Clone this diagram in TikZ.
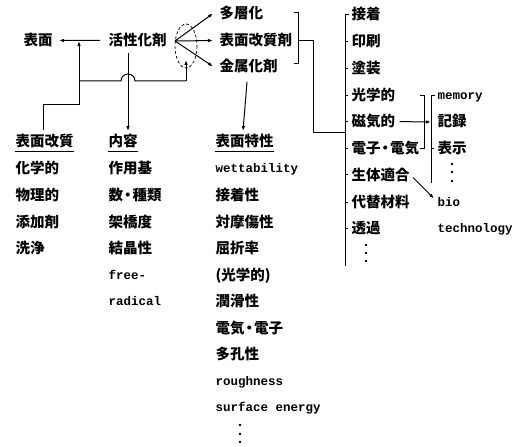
\documentclass[tikz,border=0pt]{standalone}
\usepackage{fontspec}
\newfontfamily\jpf{Noto Sans CJK JP}
\newfontfamily\monof{Liberation Mono}
\usetikzlibrary{arrows.meta,calc}
\newcommand\nakaguro{\kern-2.5pt・\kern-2.5pt}
\begin{document}
\begin{tikzpicture}[x=1pt,y=-1pt,line width=1pt,
  jp/.style={font=\jpf\bfseries\fontsize{14.5}{14}\selectfont,inner sep=0pt,anchor=base west},
  lt/.style={font=\monof\bfseries\fontsize{12.5}{12}\selectfont,inner sep=0pt,anchor=base west},
  arr/.style={-{Latex[length=5pt,width=3.5pt]}},
  ul/.style={line width=0.6pt},
  dotn/.style={circle,fill,inner sep=0pt,minimum size=2.6pt}]
\useasboundingbox[fill=white] (0,0) rectangle (518,446);
% top row
\node[jp] (hm) at (23,46) {表面};
\node[jp] (kz) at (108,46) {活性化剤};
\node[jp] (tso) at (219,19) {多層化};
\node[jp] (kkz) at (219,46) {表面改質剤};
\node[jp] (kzk) at (219,72) {金属化剤};
% column 1
\node[jp] (c1h) at (15,147) {表面改質};
\node[jp] (c1a) at (15,174) {化学的};
\node[jp] (c1b) at (15,200) {物理的};
\node[jp] (c1c) at (15,227) {添加剤};
\node[jp] (c1d) at (15,253) {洗浄};
% column 2
\node[jp] (c2h) at (108,147) {内容};
\node[jp] (c2a) at (108,174) {作用基};
\node[jp] (c2b) at (108,200) {数\nakaguro 種類};
\node[jp] (c2c) at (108,227) {架橋度};
\node[jp] (c2d) at (108,253) {結晶性};
\node[lt] (c2e) at (108,279) {free-};
\node[lt] (c2f) at (108,305) {radical};
% column 3
\node[jp] (c3h) at (215,147) {表面特性};
\node[lt] (c3a) at (215,173) {wettability};
\node[jp] (c3b) at (215,200) {接着性};
\node[jp] (c3c) at (215,227) {対摩傷性};
\node[jp] (c3d) at (215,253) {屈折率};
\node[jp] (c3e) at (215,280) {(光学的)};
\node[jp] (c3f) at (215,306) {潤滑性};
\node[jp] (c3g) at (215,333) {電気\nakaguro 電子};
\node[jp] (c3i) at (215,359) {多孔性};
\node[lt] (c3j) at (215,385) {roughness};
\node[lt] (c3k) at (215,411) {surface energy};
\node[dotn] (d3a) at (240,425) {};
\node[dotn] (d3b) at (240,434) {};
\node[dotn] (d3c) at (240,442) {};
% column 4
\node[jp] (c4a) at (351,20) {接着};
\node[jp] (c4b) at (351,47) {印刷};
\node[jp] (c4c) at (351,74) {塗装};
\node[jp] (c4d) at (351,101) {光学的};
\node[jp] (c4e) at (351,127) {磁気的};
\node[jp] (c4f) at (351,154) {電子\nakaguro 電気};
\node[jp] (c4g) at (351,180) {生体適合};
\node[jp] (c4h) at (351,207) {代替材料};
\node[jp] (c4i) at (351,233) {透過};
\node[dotn] (d4a) at (366,245) {};
\node[dotn] (d4b) at (366,253) {};
\node[dotn] (d4c) at (366,261) {};
% column 5
\node[lt] (c5a) at (437,100) {memory};
\node[jp] (c5b) at (437,127) {記録};
\node[jp] (c5c) at (437,154) {表示};
\node[dotn] (d5a) at (452,164) {};
\node[dotn] (d5b) at (452,172) {};
\node[dotn] (d5c) at (452,181) {};
\node[lt] (c5d) at (437,206) {bio};
\node[lt] (c5e) at (437,232) {technology};
% underlines
\foreach \n in {c1h,c2h,c3h}
  \draw[ul] ($(\n.south west)+(0,2)$) -- ($(\n.south east)+(0,2)$);
% connectors, left part
\coordinate (j1) at (79,81);
\coordinate (j2) at (186,81);
\coordinate (t1) at (79,41);
\coordinate (ap) at (175,41);
\draw[arr] ($(kz.west)+(-8,0)$) -- ($(hm.east)+(6,0)$);
\draw[arr] (j1) -- (t1);
\draw (j1) -- (121,81) arc[start angle=180,end angle=360,radius=7] -- (j2);
\draw[arr] (j2) -- (186,60);
\draw[dashed,line width=0.7pt,dash pattern=on 3pt off 2pt] (186,46) ellipse [x radius=11,y radius=22];
\draw (j1) -- (79,105) -- (43,105) -- ($(c1h.north west)+(28,-4)$);
\draw[arr] ($(kz.south west)+(20,5)$) -- ($(c2h.north west)+(20,-3)$);
\draw[arr] (ap) -- ($(tso.west)+(-6,0)$);
\draw[arr] (ap) -- ($(kkz.west)+(-6,0)$);
\draw[arr] (ap) -- ($(kzk.west)+(-6,0)$);
\draw[arr] ($(kzk.south west)+(28,8)$) -- ($(c3h.north west)+(28,-3)$);
% bracket of the top three
\draw (294,13) -- (298,13) -- (298,64) -- (294,64);
\draw (298,41) -- (313,41) -- (313,133) -- (345,133);
% column 4 bracket
\draw (349,15) -- (345,15) -- (345,266);
\foreach \y in {42,69,96,122,149,175,202,228}
  \draw (345,\y) -- (348,\y);
% right bracket
\draw (420,96) -- (424,96) -- (424,149) -- (420,149);
\draw[arr] ($(c4e.east)+(4,0)$) -- (431,122);
\draw (435,96) -- (431,96) -- (431,183);
\draw (431,149) -- (434,149);
\draw[arr] ($(c4g.east)+(3,3)$) -- ($(c5d.west)+(-3,-3)$);
\end{tikzpicture}
\end{document}
